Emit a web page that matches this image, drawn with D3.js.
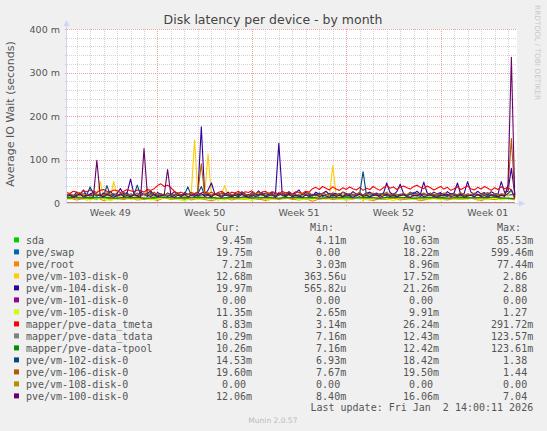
<!DOCTYPE html>
<html><head><meta charset="utf-8">
<script src="https://cdn.jsdelivr.net/npm/d3@7"></script>
<style>body{margin:0;background:#f0f0f0}svg{display:block}</style>
</head><body><svg id="c" width="547" height="431"></svg>
<script>
// ---------- data ----------
const seriesNames = ["sda","pve/swap","pve/root","pve/vm-103-disk-0","pve/vm-104-disk-0","pve/vm-101-disk-0","pve/vm-105-disk-0","mapper/pve-data_tmeta","mapper/pve-data_tdata","mapper/pve-data-tpool","pve/vm-102-disk-0","pve/vm-106-disk-0","pve/vm-108-disk-0","pve/vm-100-disk-0"];
const seriesColors = ["#00CC00","#0066B3","#FF8000","#FFCC00","#330099","#990099","#CCFF00","#FF0000","#808080","#008F00","#00487D","#B35A00","#B38F00","#6B006B"];
const curValues = ["9.45m","19.75m","7.21m","12.68m","19.97m","0.00","11.35m","8.83m","10.29m","10.26m","14.53m","19.60m","0.00","12.06m"];
const minValues = ["4.11m","0.00","3.03m","363.56u","565.82u","0.00","2.65m","3.14m","7.16m","7.16m","6.93m","7.67m","0.00","8.40m"];
const avgValues = ["10.63m","18.22m","8.96m","17.52m","21.26m","0.00","9.91m","26.24m","12.43m","12.42m","18.42m","19.50m","0.00","16.06m"];
const maxValues = ["85.53m","599.46m","77.44m","2.86","2.88","0.00","1.27","291.72m","123.57m","123.61m","1.38","1.44","0.00","7.04"];
const legendHeaders = ["Cur:","Min:","Avg:","Max:"];
const yTickValues = [0, 0.1, 0.2, 0.3, 0.4];
const yTickLabels = ["0","100 m","200 m","300 m","400 m"];
const weekStarts = ["2025-11-30","2025-12-07","2025-12-14","2025-12-21","2025-12-28"];
const weekLabels = ["Week 49","Week 50","Week 51","Week 52","Week 01"];
const titleText = "Disk latency per device - by month";
const yAxisTitle = "Average IO Wait (seconds)";
const lastUpdate = "Last update: Fri Jan  2 14:00:11 2026";
const lastSampleTime = Date.UTC(2026,0,2,12);   // newest plotted sample
const timeStart = Date.UTC(2025,10,30,6), timeEnd = Date.UTC(2026,0,2,16);

// values in milliseconds; 12-hour samples (oldest first)
const sda12h = [11,10,12,10,11,9,12,10,11,10, 12,11,9,10,11,12,10,11,9,10, 12,11,10,11,9,12,10,11,10,9, 11,12,10,11,10,12,9,11,10,11, 12,10,9,11,10,12,11,10,9,11, 12,10,11,10,9,12,11,10,11,9, 10,12,11,10,9,11,10,9.45];
const swap12h = [17,20,15,22,18,16,21,19,14,23, 18,16,20,24,17,19,15,21,18,22, 16,20,17,23,19,15,21,18,20,16, 22,17,19,24,18,15,20,17,21,19, 16,22,18,20,15,23,19,17,21,18, 20,16,24,18,19,15,22,17,20,18, 16,21,19,23,17,20,18,19.75];
const root12h = [9,11,7,10,8,12,6,9,10,8, 11,7,9,10,6,12,8,9,11,7, 10,8,5,9,11,7,10,8,12,9, 6,10,8,11,9,7,10,4,9,11, 8,10,7,9,12,8,6,10,9,11, 7,9,10,5,8,11,9,7,10,8, 12,9,6,10,8,9,11,7.21];
const vm105_12h = [10,8,12,9,7,11,10,6,9,12, 8,10,11,7,9,12,10,8,5,11, 9,10,12,8,7,11,9,10,6,12, 10,8,11,9,13,7,10,9,11,8, 12,9,7,10,11,8,10,12,9,6, 11,10,8,12,9,10,7,11,9,10, 8,12,10,9,11,7,10,11.35];
const tdata12h = [12,13,12,11,13,12,14,12,11,13, 12,13,11,12,14,13,12,11,13,12, 14,12,13,11,12,13,12,14,11,12, 13,12,11,13,12,14,12,13,11,12, 13,12,14,11,12,13,12,11,13,14, 12,13,11,12,13,12,14,11,12,13, 12,11,13,12,14,12,11,10.29];
const tpool12h = [12,13,12,12,13,12,13,12,11,13, 12,13,11,12,14,13,12,12,13,12, 13,12,13,11,12,13,12,14,12,12, 13,12,11,13,12,13,12,13,11,12, 13,12,14,12,12,13,12,11,13,13, 12,13,11,12,13,12,13,11,12,13, 12,12,13,12,14,12,11,10.26];
const zeroSeries = [0,0,0];
// 6-hour samples (oldest first)
const vm103_6h = [14,17,12,19,15,21,6,18,16,20, 49,15,18,13,49,17,14,20,16,12, 18,15,7,14,35,17,13,19,16,22, 14,18,12,20,15,17,13,19,145,16, 14,19,113,15,18,5,21,40,16,14, 19,15,22,13,17,20,14,18,16,21, 6,19,15,17,22,14,18,16,20,13, 17,21,15,19,14,18,22,16,13,86, 18,15,20,14,17,21,16,19,4,18, 15,20,17,14,19,16,22,13,18,15, 21,17,14,19,16,6,20,18,15,22, 14,17,19,13,21,16,18,15,20,14, 19,16,5,22,17,15,20,14,18,16, 21,15,30,12.68];
const vm104_6h = [18,22,16,25,19,30,17,21,24,20, 16,23,19,27,18,22,33,20,24,55, 21,17,25,19,22,28,18,24,20,16, 23,19,26,21,18,24,20,17,22,25, 175,19,30,46,21,18,23,20,25,17, 22,19,26,21,17,24,20,28,18,23, 19,25,21,137,22,18,26,20,23,30, 19,24,21,17,25,20,22,27,19,23, 21,18,25,22,19,26,20,24,17,22, 25,20,23,18,21,46,24,19,26,43, 22,18,25,21,27,20,48,23,19,25, 21,24,18,26,20,23,46,19,22,49, 25,20,27,21,24,18,26,22,20,49, 24,27,80,19.97];
const tmeta6h = [24,22,27,25,21,28,26,30,27,24, 29,31,27,25,30,28,24,27,31,28, 26,30,28,25,31,29,33,40,44,38, 41,35,27,22,25,21,19,24,22,20, 23,26,21,25,20,24,27,22,19,25, 23,27,21,26,24,28,22,20,25,27, 22,26,24,20,27,23,25,21,26,24, 22,27,25,33,36,31,38,34,30,37, 32,29,35,31,37,33,30,36,29,34, 31,38,33,29,35,40,34,37,31,36, 39,35,32,38,41,36,33,39,35,30, 34,38,32,36,29,33,37,31,35,39, 33,30,36,32,38,34,29,35,31,37, 33,36,30,8.83];
const vm102_6h = [17,20,15,19,22,16,18,37,21,16, 19,15,40,18,21,16,20,17,23,15, 18,41,17,20,15,22,19,16,21,18, 15,20,17,23,16,19,37,18,15,21, 38,17,20,15,22,18,16,21,19,15, 20,17,23,16,19,15,21,18,24,16, 19,22,15,18,20,16,23,17,19,15, 21,18,16,20,17,23,15,19,22,16, 18,20,15,21,17,19,16,22,72,18, 15,20,17,19,23,16,18,21,15,19, 22,17,20,16,18,15,21,19,23,17, 16,20,18,15,22,19,17,21,16,18, 20,15,19,17,23,16,18,21,15,19, 17,22,30,14.53];
const vm106_6h = [19,22,17,21,24,18,20,16,23,19, 21,17,24,19,22,18,20,25,17,21, 19,23,16,20,22,18,25,19,21,17, 22,18,20,24,17,21,19,23,18,27, 90,20,24,18,21,19,23,17,22,20, 18,24,19,21,17,22,20,25,18,21, 23,17,20,22,19,24,18,21,16,20, 22,19,24,18,21,17,23,20,19,22, 18,21,25,19,22,17,20,24,18,21, 20,23,18,22,19,25,17,21,20,18, 22,19,24,17,21,20,23,18,22,19, 21,18,23,20,17,22,19,24,18,21, 19,23,17,21,20,24,18,22,19,21, 20,35,148,19.6];
const vm100_6h = [15,18,13,17,20,14,16,19,15,98, 17,14,19,16,13,18,21,15,17,14, 19,16,13,125,18,15,20,14,17,19, 77,16,13,18,15,20,14,17,19,16, 22,15,18,14,20,17,13,19,16,15, 18,14,20,16,13,19,15,17,21,14, 16,19,13,24,17,15,20,14,18,16, 13,19,15,17,21,14,18,16,13,20, 15,18,14,19,16,13,17,20,15,18, 14,17,19,13,16,20,15,18,14,17, 19,15,13,18,16,21,14,17,19,15, 13,18,16,20,14,17,15,19,13,16, 18,14,20,15,17,13,19,16,14,18, 15,42,335,12.06];

const seriesValues = [sda12h, swap12h, root12h, vm103_6h, vm104_6h, zeroSeries, vm105_12h, tmeta6h, tdata12h, tpool12h, vm102_6h, vm106_6h, zeroSeries, vm100_6h];
const seriesStepHours = [12,12,12,6,6,400,12,6,12,12,6,6,400,6];

// ---------- layout ----------
const X0 = 66.5, X1 = 517, Y0 = 203, Y1 = 29;
const svg = d3.select("#c");
const x = d3.scaleUtc().domain([new Date(timeStart), new Date(timeEnd)]).range([X0, X1]);
const y = d3.scaleLinear().domain([0, 0.4]).range([Y0, Y1]);
const sans = "DejaVu Sans, sans-serif", mono = "DejaVu Sans Mono, monospace";
const axisCol = "#CFD6F8", gridCol = "#d4d4d4", mgridCol = "#f2a0a0", fontCol = "#555";

svg.append("rect").attr("width",547).attr("height",431).attr("fill","#f0f0f0");
svg.append("rect").attr("x",X0).attr("y",Y1).attr("width",X1-X0).attr("height",Y0-Y1).attr("fill","#fff");

// grid
const g = svg.append("g").attr("shape-rendering","crispEdges").attr("stroke-dasharray","1,1");
const minorY = d3.range(0, 0.4001, 0.02).filter(v => Math.round(v*100) % 10 !== 0 && v > 0);
g.selectAll(".hy").data(minorY).join("line")
  .attr("x1",X0-2).attr("x2",X1).attr("y1",d=>Math.round(y(d))+0.5).attr("y2",d=>Math.round(y(d))+0.5).attr("stroke",gridCol);
const weekDates = weekStarts.map(s => new Date(s+"T00:00:00Z"));
const days = d3.utcDay.range(x.domain()[0], x.domain()[1]).filter(d => !weekDates.some(w => +w === +d));
g.selectAll(".vx").data(days).join("line")
  .attr("x1",d=>Math.round(x(d))+0.5).attr("x2",d=>Math.round(x(d))+0.5).attr("y1",Y1).attr("y2",Y0+2).attr("stroke",gridCol);
g.selectAll(".my").data(yTickValues.filter(v=>v>0)).join("line")
  .attr("x1",X0-2).attr("x2",X1).attr("y1",d=>Math.round(y(d))+0.5).attr("y2",d=>Math.round(y(d))+0.5).attr("stroke",mgridCol);
g.selectAll(".mx").data(weekDates.filter(d => d >= x.domain()[0])).join("line")
  .attr("x1",d=>Math.round(x(d))+0.5).attr("x2",d=>Math.round(x(d))+0.5).attr("y1",Y1).attr("y2",Y0+3).attr("stroke",mgridCol);

// series
svg.append("clipPath").attr("id","clip").append("rect").attr("x",X0).attr("y",0).attr("width",X1-X0).attr("height",Y0+1);
const line = d3.line().x(d=>x(d.t)).y(d=>y(d.v));
const lg = svg.append("g").attr("clip-path","url(#clip)");
seriesValues.forEach((vals, si) => {
  const step = seriesStepHours[si]*3600e3;
  const pts = vals.map((v,k) => ({t: new Date(lastSampleTime - (vals.length-1-k)*step), v: v/1000}));
  lg.append("path").attr("d", line(pts)).attr("fill","none")
    .attr("stroke", seriesColors[si]).attr("stroke-width",1.1).attr("stroke-linejoin","round");
});

// axes
const ax = svg.append("g");
ax.append("line").attr("x1",X0).attr("x2",X0).attr("y1",Y0+0.5).attr("y2",25).attr("stroke",axisCol).attr("shape-rendering","crispEdges");
ax.append("path").attr("d",`M${X0-3},26 L${X0+3},26 L${X0},20 Z`).attr("fill",axisCol);
ax.append("line").attr("x1",X0).attr("x2",519).attr("y1",Y0+0.5).attr("y2",Y0+0.5).attr("stroke",axisCol).attr("shape-rendering","crispEdges");
ax.append("path").attr("d",`M519,${Y0-2.5} L519,${Y0+3.5} L525,${Y0+0.5} Z`).attr("fill",axisCol);

// tick labels
svg.selectAll(".yl").data(yTickValues).join("text")
  .attr("x",60).attr("y",d=>y(d)+3.5).attr("text-anchor","end")
  .attr("font-family",sans).attr("font-size",9.5).attr("fill",fontCol)
  .text((d,i)=>yTickLabels[i]);
svg.selectAll(".xl").data(weekDates).join("text")
  .attr("x",d=>x(d3.utcHour.offset(d, 84))).attr("y",216.3).attr("text-anchor","middle")
  .attr("font-family",sans).attr("font-size",9.5).attr("fill",fontCol)
  .text((d,i)=>weekLabels[i]);

// titles
svg.append("text").attr("x",273).attr("y",24).attr("text-anchor","middle")
  .attr("font-family",sans).attr("font-size",12.5).attr("fill","#444").text(titleText);
svg.append("text").attr("transform","translate(14.3,114) rotate(-90)").attr("text-anchor","middle")
  .attr("font-family",sans).attr("font-size",11).attr("fill",fontCol).text(yAxisTitle);
svg.append("text").attr("transform","translate(534.7,5) rotate(90)").attr("text-anchor","start")
  .attr("font-family",sans).attr("font-size",7.4).attr("fill","#c8c8c8").text("RRDTOOL / TOBI OETIKER");

// legend
const colRight = [252, 346.2, 439, 533.2];
const pad = s => /[0-9]$/.test(s) ? s + "\u00a0" : s;
const leg = svg.append("g").attr("font-family",mono).attr("font-size",10).attr("fill","#555");
legendHeaders.forEach((h,ci) => {
  leg.append("text").attr("x",colRight[ci]).attr("y",231).attr("text-anchor","end").attr("xml:space","preserve").text(h+"\u00a0\u00a0");
});
const cols = [curValues, minValues, avgValues, maxValues];
seriesNames.forEach((name, i) => {
  const cy = 240 + i*12;
  leg.append("rect").attr("x",14).attr("y",cy-2.6).attr("width",5).attr("height",5).attr("fill",seriesColors[i]);
  leg.append("text").attr("x",26).attr("y",cy+3.6).text(name);
  cols.forEach((c,ci) => leg.append("text").attr("x",colRight[ci]).attr("y",cy+3.6).attr("text-anchor","end").text(pad(c[i])));
});
leg.append("text").attr("x",533.2).attr("y",411.3).attr("text-anchor","end").attr("xml:space","preserve").style("white-space","pre").text(lastUpdate);
svg.append("text").attr("x",272.9).attr("y",422.6).attr("text-anchor","middle")
  .attr("font-family",sans).attr("font-size",7.5).attr("fill","#bbb").text("Munin 2.0.57");
</script></body></html>
